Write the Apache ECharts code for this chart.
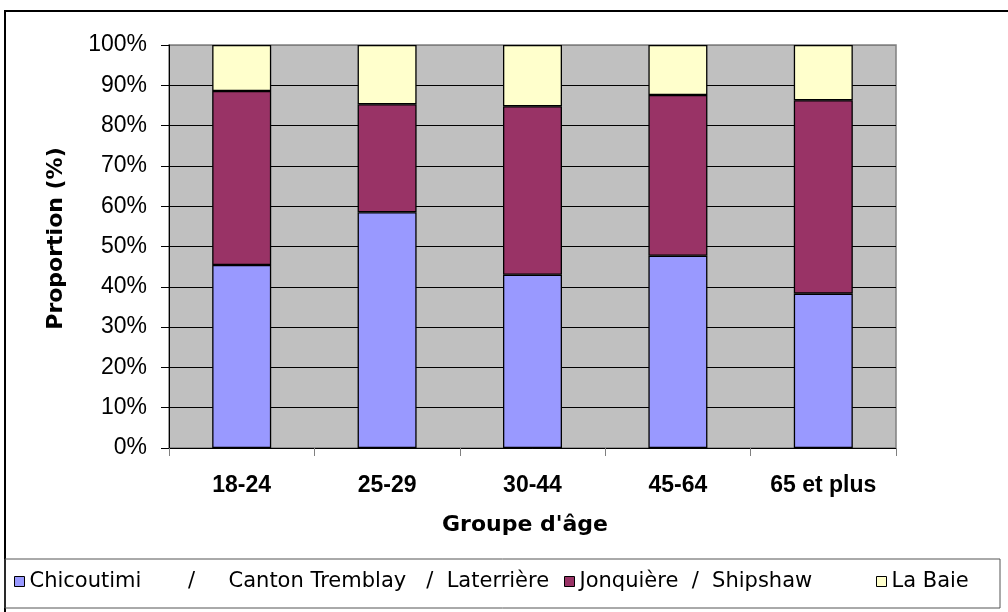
<!DOCTYPE html>
<html>
<head>
<meta charset="utf-8">
<script src="https://cdn.jsdelivr.net/npm/echarts@6/dist/echarts.min.js"></script>
<style>
html,body{margin:0;padding:0;background:#fff;}
#chart{width:1008px;height:612px;}
</style>
</head>
<body>
<div id="chart"></div>
<script>
const categories = ['18-24', '25-29', '30-44', '45-64', '65 et plus'];
const chicoutimi = [45.4, 58.5, 43.0, 47.7, 38.3];
const jonquiere = [43.2, 26.8, 41.8, 39.9, 48.0];
const laBaie = [11.4, 14.7, 15.2, 12.4, 13.7];
const yTicks = [0, 10, 20, 30, 40, 50, 60, 70, 80, 90, 100];
const seriesNames = [
  'Chicoutimi       /     Canton Tremblay   /  Laterrière',
  'Jonquière  /  Shipshaw',
  'La Baie'
];
const colors = ['#9999FF', '#993366', '#FFFFCC'];

const chart = echarts.init(document.getElementById('chart'), null, {renderer: 'canvas'});

const legendBase = {
  orient: 'horizontal',
  top: 571,
  padding: 0,
  itemWidth: 10,
  itemHeight: 10,
  itemGap: 5,
  icon: 'rect',
  itemStyle: {borderColor: '#000', borderWidth: 1},
  textStyle: {fontFamily: 'DejaVu Sans', fontSize: 21, color: '#000'}
};

function barSeries(name, data, color) {
  return {
    name: name,
    type: 'bar',
    stack: 'total',
    data: data,
    barWidth: 59,
    itemStyle: {color: color, borderColor: '#000', borderWidth: 1.3},
    emphasis: {disabled: true}
  };
}

const splitColors = yTicks.map(function (v) { return v === 100 ? '#808080' : '#000'; });

chart.setOption({
  animation: false,
  backgroundColor: '#fff',
  color: colors,
  grid: {
    left: 169, top: 45, right: 112, bottom: 164,
    show: true,
    backgroundColor: '#C0C0C0',
    borderColor: '#808080',
    borderWidth: 1.5
  },
  legend: [
    Object.assign({}, legendBase, {left: 14, data: [seriesNames[0]]}),
    Object.assign({}, legendBase, {left: 564, data: [seriesNames[1]]}),
    Object.assign({}, legendBase, {left: 876, data: [seriesNames[2]]})
  ],
  xAxis: {
    type: 'category',
    data: categories,
    name: "Groupe d'âge",
    nameLocation: 'middle',
    nameGap: 66,
    nameTextStyle: {fontFamily: 'DejaVu Sans', fontWeight: 'bold', fontSize: 22, color: '#000', padding: [0, 15, 0, 0]},
    axisLine: {show: true, lineStyle: {color: '#000', width: 1}},
    axisTick: {show: true, length: 8, inside: false, alignWithLabel: false, interval: 0, lineStyle: {color: '#808080', width: 1}},
    axisLabel: {margin: 26, fontFamily: 'Liberation Sans', fontWeight: 'bold', fontSize: 23, color: '#000', interval: 0},
    splitLine: {show: false}
  },
  yAxis: {
    type: 'value',
    min: 0,
    max: 100,
    interval: 10,
    name: 'Proportion (%)',
    nameLocation: 'middle',
    nameGap: 102,
    nameTextStyle: {fontFamily: 'DejaVu Sans', fontWeight: 'bold', fontSize: 22, color: '#000', padding: [0, 0, 0, 16]},
    axisLine: {show: true, lineStyle: {color: '#000', width: 1}},
    axisTick: {show: true, length: 8, inside: false, lineStyle: {color: '#000', width: 1}},
    axisLabel: {
      margin: 22,
      fontFamily: 'Liberation Sans',
      fontSize: 23,
      color: '#000',
      formatter: function (v) { return yTicks.indexOf(v) >= 0 ? v + '%' : ''; }
    },
    splitLine: {show: true, lineStyle: {color: splitColors, width: 1}}
  },
  graphic: [
    {type: 'rect', silent: true, z: 100,
     shape: {x: 5, y: 11, width: 1015, height: 620},
     style: {fill: 'none', stroke: '#000', lineWidth: 2}},
    {type: 'rect', silent: true, z: 100,
     shape: {x: 5, y: 559, width: 995, height: 49},
     style: {fill: 'none', stroke: '#555', lineWidth: 1}}
  ],
  series: [
    barSeries(seriesNames[0], chicoutimi, colors[0]),
    barSeries(seriesNames[1], jonquiere, colors[1]),
    barSeries(seriesNames[2], laBaie, colors[2])
  ]
});
</script>
</body>
</html>
